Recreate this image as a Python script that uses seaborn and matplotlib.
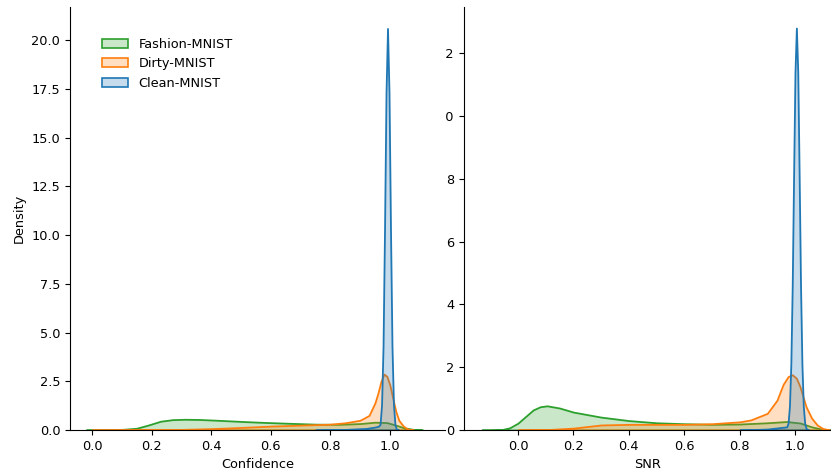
import numpy as np
import pandas as pd
import seaborn as sns
import matplotlib.pyplot as plt
from matplotlib.patches import Patch

plt.rcParams["font.size"] = 9.3

# Paleta padrao (tab10)
pal = sns.color_palette()
cor_clean, cor_dirty, cor_fashion = pal[0], pal[1], pal[2]

nomes = ["Fashion-MNIST", "Dirty-MNIST", "Clean-MNIST"]

# Curvas de densidade - painel Confidence
conf_fashion_x = [-0.02, 0.05, 0.10, 0.15, 0.19, 0.23, 0.27, 0.31, 0.36, 0.42, 0.50, 0.56, 0.65,
                  0.75, 0.83, 0.90, 0.95, 0.99, 1.02, 1.05, 1.08, 1.11]
conf_fashion_y = [0.0, 0.005, 0.03, 0.09, 0.26, 0.45, 0.53, 0.55, 0.54, 0.50, 0.44, 0.40, 0.35,
                  0.30, 0.29, 0.33, 0.40, 0.38, 0.25, 0.10, 0.03, 0.0]

conf_dirty_x = [0.0, 0.2, 0.3, 0.4, 0.5, 0.6, 0.7, 0.8, 0.85, 0.9, 0.93, 0.95, 0.96, 0.97, 0.98,
                0.99, 1.0, 1.01, 1.02, 1.03, 1.045, 1.06, 1.08]
conf_dirty_y = [0.0, 0.01, 0.03, 0.07, 0.13, 0.20, 0.25, 0.30, 0.37, 0.50, 0.75, 1.4, 1.9, 2.5, 2.87,
                2.75, 2.3, 1.6, 0.95, 0.5, 0.2, 0.05, 0.0]

conf_clean_x = [0.75, 0.85, 0.92, 0.95, 0.962, 0.967, 0.972, 0.977, 0.982, 0.987, 0.992, 0.997,
                1.002, 1.007, 1.012, 1.017, 1.022, 1.03]
conf_clean_y = [0.0, 0.03, 0.08, 0.15, 0.2, 0.3, 1.3, 4.3, 10.3, 17.3, 20.6, 17.3,
                10.3, 4.3, 1.3, 0.27, 0.04, 0.0]

# Painel SNR
snr_fashion_x = [-0.13, -0.10, -0.06, -0.03, 0.0, 0.03, 0.055, 0.08, 0.105, 0.15, 0.2, 0.3, 0.4,
                 0.5, 0.6, 0.7, 0.8, 0.9, 0.97, 1.02, 1.06, 1.1, 1.13]
snr_fashion_y = [0.0, 0.0, 0.01, 0.07, 0.22, 0.45, 0.64, 0.74, 0.77, 0.70, 0.57, 0.41, 0.30,
                 0.23, 0.20, 0.18, 0.19, 0.23, 0.27, 0.22, 0.10, 0.02, 0.0]

snr_dirty_x = [0.0, 0.1, 0.2, 0.3, 0.4, 0.5, 0.6, 0.7, 0.8, 0.84, 0.9, 0.935, 0.957, 0.975, 0.99,
               1.005, 1.018, 1.04, 1.06, 1.08, 1.1, 1.125]
snr_dirty_y = [0.0, 0.01, 0.06, 0.16, 0.18, 0.18, 0.18, 0.20, 0.26, 0.32, 0.53, 0.95, 1.45, 1.7, 1.76,
               1.65, 1.38, 0.74, 0.38, 0.16, 0.05, 0.0]

snr_clean_x = [0.8, 0.9, 0.95, 0.97, 0.975, 0.98, 0.985, 0.99, 0.995, 1.0, 1.005, 1.01, 1.015,
               1.02, 1.025, 1.03, 1.035, 1.04, 1.05]
snr_clean_y = [0.0, 0.03, 0.08, 0.1, 0.22, 0.76, 2.1, 4.6, 8.1, 11.4, 12.8, 11.4, 8.1,
               4.6, 2.1, 0.76, 0.22, 0.05, 0.0]

curvas = {
    "Confidence": [
        (conf_fashion_x, conf_fashion_y, cor_fashion),
        (conf_dirty_x, conf_dirty_y, cor_dirty),
        (conf_clean_x, conf_clean_y, cor_clean),
    ],
    "SNR": [
        (snr_fashion_x, snr_fashion_y, cor_fashion),
        (snr_dirty_x, snr_dirty_y, cor_dirty),
        (snr_clean_x, snr_clean_y, cor_clean),
    ],
}

fig = plt.figure(figsize=(8.31, 4.71), dpi=100)
ax1 = fig.add_axes([70 / 831, 41 / 471, 375 / 831, 423 / 471])
ax2 = fig.add_axes([464 / 831, 41 / 471, 367 / 831, 423 / 471])
# painel da esquerda por cima (esconde parte dos rotulos do da direita)
ax1.set_zorder(2)
ax2.set_zorder(1)

for ax, nome in [(ax1, "Confidence"), (ax2, "SNR")]:
    for xs, ys, cor in curvas[nome]:
        ax.fill_between(xs, 0, ys, facecolor=(*cor, 0.25), edgecolor=cor, linewidth=1.3)
    ax.set_xlabel(nome)
    sns.despine(ax=ax)

ax1.set_xlim(-0.074, 1.185)
ax1.set_ylim(0, 21.7)
ax1.set_xticks(np.arange(0, 1.01, 0.2))
ax1.set_ylabel("Density")

ax2.set_xlim(-0.195, 1.13)
ax2.set_ylim(0, 13.47)
ax2.set_xticks(np.arange(0, 1.01, 0.2))
ax2.set_yticks(np.arange(0, 13, 2))

handles = [Patch(facecolor=(*c, 0.25), edgecolor=c, linewidth=1.2)
           for c in [cor_fashion, cor_dirty, cor_clean]]
ax1.legend(handles, nomes, loc="upper left", bbox_to_anchor=(0.055, 0.955), frameon=False)

plt.savefig("out.png", dpi=100)
